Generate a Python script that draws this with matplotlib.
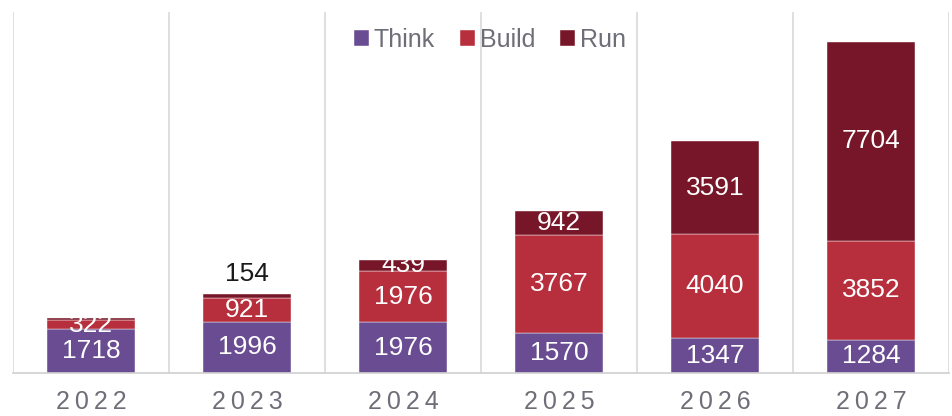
import matplotlib.pyplot as plt
import numpy as np

plt.rcParams['font.family'] = ['Liberation Sans', 'DejaVu Sans']

years = ["2022", "2023", "2024", "2025", "2026", "2027"]
think = [1718, 1996, 1976, 1570, 1347, 1284]
build = [322, 921, 1976, 3767, 4040, 3852]
run = [80, 154, 439, 942, 3591, 7704]

colors = {"Think": "#6A4C93", "Build": "#B72E3C", "Run": "#771628"}

fig = plt.figure(figsize=(9.52, 4.16), dpi=100)
ax = fig.add_axes([13 / 952, 43 / 416, 936 / 952, 361 / 416])

x = np.arange(len(years))
w = 0.56
bottom = np.zeros(len(years))
for name, vals in [("Think", think), ("Build", build), ("Run", run)]:
    vals = np.array(vals)
    ax.bar(x, vals, w, bottom=bottom, color=colors[name], label=name,
           edgecolor="white", linewidth=0.3)
    for i, v in enumerate(vals):
        if v < 100:
            continue
        if name == "Run" and v < 300:
            # too thin to hold the label, put it on top
            ax.text(x[i], bottom[i] + v + 300, str(v), ha="center", va="bottom",
                    color="#1a1a1a", fontsize=19)
        else:
            ax.text(x[i], bottom[i] + v / 2, str(v), ha="center", va="center",
                    color="white", fontsize=19)
    bottom += vals

ax.set_xlim(-0.5, len(years) - 0.5)
ax.set_ylim(0, 14000)
ax.set_yticks([])
ax.set_xticks(x)
# spaced-out year labels like the original
ax.set_xticklabels(["\u2009".join(y) for y in years], fontsize=18, color="#6e6e78")
ax.tick_params(axis="x", length=0, pad=12)
for xb in np.arange(-0.5, len(years), 1.0):
    ax.axvline(xb, color="#d9d9d9", linewidth=1.2, zorder=0)
for s in ["top", "right", "left"]:
    ax.spines[s].set_visible(False)
ax.spines["bottom"].set_color("#cfcfcf")
ax.spines["bottom"].set_linewidth(1.2)

fig.legend(loc="center", bbox_to_anchor=(490 / 952, 1 - 40 / 416), ncol=3,
           frameon=False, fontsize=18, handlelength=0.6, handleheight=0.6,
           handletextpad=0.2, columnspacing=1.0, labelcolor="#6e6e78")

fig.savefig("out.png", dpi=100)
